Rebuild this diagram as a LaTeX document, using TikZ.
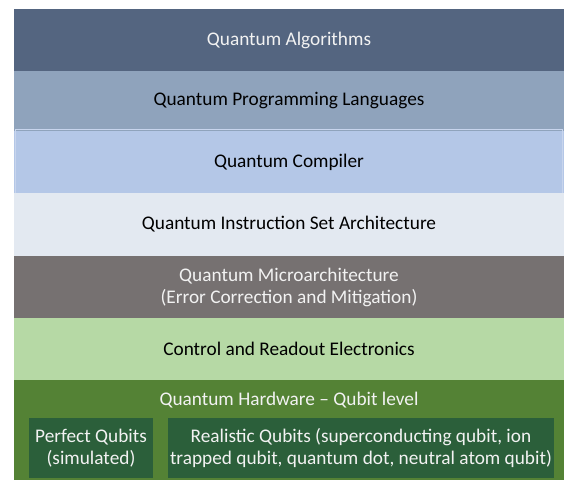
\documentclass[tikz,border=0pt]{standalone}
\usepackage{fontspec}
\setmainfont{Carlito}

\definecolor{algblue}{HTML}{546580}
\definecolor{langblue}{HTML}{8FA3BC}
\definecolor{compblue}{HTML}{B4C7E7}
\definecolor{compedge}{HTML}{C8D5ED}
\definecolor{isablue}{HTML}{E3E9F1}
\definecolor{microgrey}{HTML}{767171}
\definecolor{ctrlgreen}{HTML}{B6D9A5}
\definecolor{hwgreen}{HTML}{548235}
\definecolor{qubitgreen}{HTML}{2B5F3A}
\definecolor{paletext}{HTML}{F2F2F2}

\tikzstyle{layer}=[anchor=north west,minimum width=550pt,inner sep=0pt,outer sep=0pt,align=center,font=\fontsize{19.3}{22}\selectfont]
\tikzstyle{qubit box}=[anchor=north west,minimum height=60pt,inner sep=0pt,outer sep=0pt,align=center,fill=qubitgreen,text=paletext,font=\fontsize{19.3}{22}\selectfont]

\begin{document}
\begin{tikzpicture}[x=1pt,y=-1pt]
			\useasboundingbox (0,0) rectangle (566,481);
			% the stack of layers, top to bottom
			\node[layer,fill=algblue,text=paletext,minimum height=62pt] (alg) at (14,9) {Quantum Algorithms};
			\node[layer,fill=langblue,minimum height=60pt] (lang) at (14,71) {Quantum Programming Languages};
			\node[layer,fill=compblue,minimum height=62pt] (comp) at (14,131) {Quantum Compiler};
			\draw[compedge,line width=1pt] ([shift={(1.5,-1.5)}]comp.north west) rectangle ([shift={(-1.5,1.5)}]comp.south east);
			\node[layer,fill=isablue,minimum height=63pt] (isa) at (14,193) {Quantum Instruction Set Architecture};
			\node[layer,fill=microgrey,text=paletext,minimum height=62pt] (micro) at (14,256) {Quantum Microarchitecture\\(Error Correction and Mitigation)};
			\node[layer,fill=ctrlgreen,minimum height=62pt] (ctrl) at (14,318) {Control and Readout Electronics};
			\node[layer,fill=hwgreen,minimum height=100pt] (hw) at (14,380) {};
			% hardware title and the two kinds of qubits
			\node[text=paletext,inner sep=0pt,font=\fontsize{19.3}{22}\selectfont] (hwtitle) at (289,400) {Quantum Hardware – Qubit level};
			\node[qubit box,minimum width=124pt] (perfect) at (29,418) {Perfect Qubits\\(simulated)};
			\node[qubit box,minimum width=386pt] (real) at (168,418) {Realistic Qubits (superconducting qubit, ion\\trapped qubit, quantum dot, neutral atom qubit)};
		\end{tikzpicture}
\end{document}
